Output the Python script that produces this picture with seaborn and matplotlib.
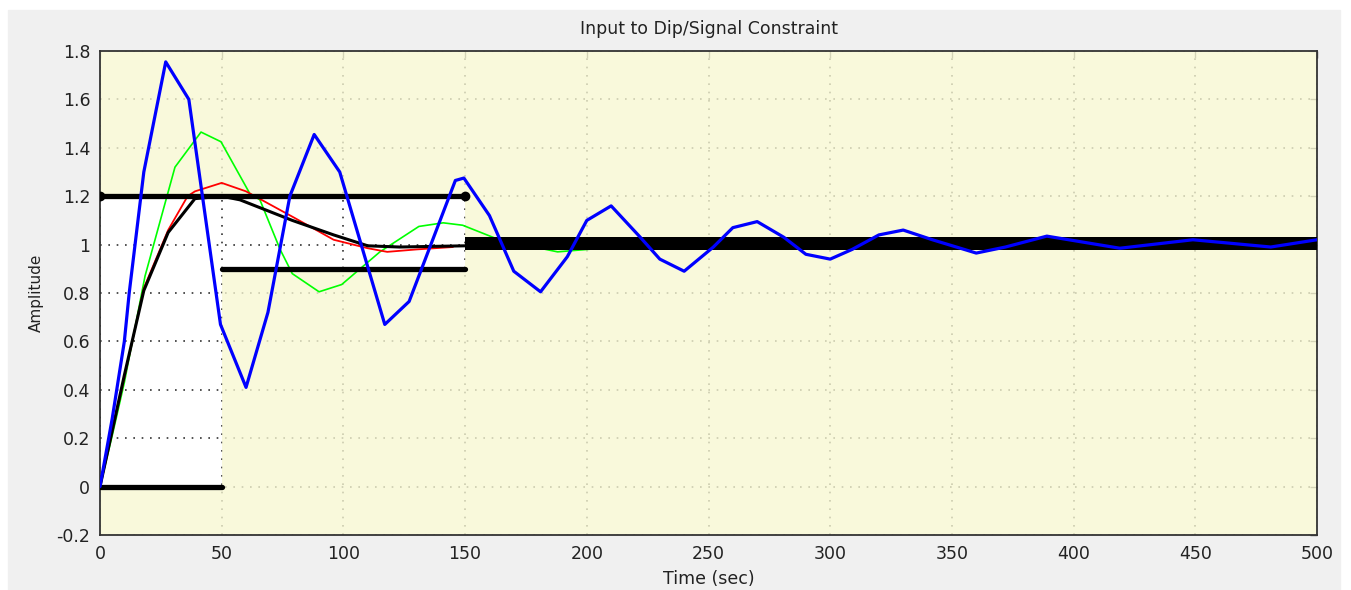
import numpy as np
import pandas as pd
import matplotlib
matplotlib.use("Agg")
import matplotlib.pyplot as plt
from matplotlib.patches import Rectangle
import seaborn as sns

# ---------------- data ----------------
blue_t = [0, 5, 10, 12, 18, 27, 36.5, 49.5, 60, 69, 78, 88, 98.5, 117, 127, 146, 149.5,
          160, 170, 181, 192, 200, 210, 222, 230, 240, 252, 260, 270, 281, 290, 300, 309,
          320, 330, 342, 360, 372, 389, 401, 419, 449, 481, 500]
blue_v = [0, 0.28, 0.6, 0.8, 1.30, 1.755, 1.60, 0.67, 0.41, 0.72, 1.20, 1.455, 1.30, 0.67, 0.765,
          1.265, 1.275, 1.12, 0.89, 0.805, 0.95, 1.10, 1.16, 1.03, 0.94, 0.89, 0.99, 1.07, 1.095,
          1.03, 0.96, 0.94, 0.98, 1.04, 1.06, 1.02, 0.965, 0.99, 1.035, 1.015, 0.985, 1.02, 0.99, 1.02]

green_t = [0, 5, 10, 18.5, 30.8, 41.5, 49.7, 61.6, 65.7, 74, 79, 90, 99.3, 115, 131, 141, 149,
           164, 188, 212, 233, 258, 300, 500]
green_v = [0, 0.21, 0.43, 0.87, 1.32, 1.465, 1.425, 1.21, 1.185, 0.98, 0.88, 0.805, 0.835, 0.97,
           1.075, 1.09, 1.08, 1.02, 0.97, 0.99, 1.025, 1.02, 1.0, 1.0]

red_t = [0, 10, 18, 28, 36, 39, 50, 60, 80, 96, 110, 118, 130, 145]
red_v = [0, 0.45, 0.82, 1.06, 1.20, 1.22, 1.255, 1.22, 1.11, 1.02, 0.985, 0.97, 0.98, 0.99]

black_t = [0, 10, 18, 28, 39, 50, 57.5, 79, 96, 110, 123, 150, 500]
black_v = [0, 0.46, 0.81, 1.05, 1.19, 1.20, 1.185, 1.10, 1.04, 0.995, 0.99, 0.995, 1.0]

# constraint bounds (piecewise)
upper_t = [[0, 150], [150, 500]]
upper_v = [1.2, 1.02]
lower_t = [[0, 50], [50, 150], [150, 500]]
lower_v = [0.0, 0.9, 0.98]

x_ticks = [0, 50, 100, 150, 200, 250, 300, 350, 400, 450, 500]
y_ticks = [-0.2, 0, 0.2, 0.4, 0.6, 0.8, 1, 1.2, 1.4, 1.6, 1.8]
y_tick_labels = ["-0.2", "0", "0.2", "0.4", "0.6", "0.8", "1", "1.2", "1.4", "1.6", "1.8"]

# ---------------- style ----------------
sns.set_style("white")
plt.rcParams["font.family"] = ["DejaVu Sans"]
text_col = "#222222"

fig = plt.figure(figsize=(13.51, 5.90), dpi=100, facecolor="white")
fig.patches.append(Rectangle((8 / 1351, 0), (1340 - 8) / 1351, (590 - 10) / 590,
                             transform=fig.transFigure, color="#f0f0f0", zorder=-10))
ax = fig.add_axes([100 / 1351, 55 / 590, 1217 / 1351, 484 / 590])
ax.set_facecolor("white")

ax.set_xlim(0, 500)
ax.set_ylim(-0.2, 1.8)

# grid (dark dotted, softened by the translucent yellow regions)
ax.set_axisbelow(True)
ax.grid(True, color="#333333", linestyle=(0, (1, 4)), linewidth=1.2)

# infeasible regions (yellow, translucent over grid)
yel = (248 / 255, 248 / 255, 210 / 255)
for (t0, t1), v in zip(upper_t, upper_v):
    ax.fill_between([t0, t1], [v, v], [1.8, 1.8], color=yel, alpha=0.78, lw=0, zorder=1)
for (t0, t1), v in zip(lower_t, lower_v):
    ax.fill_between([t0, t1], [-0.2, -0.2], [v, v], color=yel, alpha=0.78, lw=0, zorder=1)

# constraint segments
for (t0, t1), v in zip(upper_t[:1], upper_v[:1]):
    ax.plot([t0, t1], [v, v], color="black", lw=3.8, solid_capstyle="round", zorder=3.5,
            marker="o", ms=6)
for (t0, t1), v in zip(lower_t[:2], lower_v[:2]):
    ax.plot([t0, t1], [v, v], color="black", lw=3.8, solid_capstyle="round", zorder=3.5)
ax.fill_between(upper_t[1], [lower_v[2] - 0.002] * 2, [upper_v[1] + 0.01] * 2,
                color="black", lw=0, zorder=3.5)

# response curves
def draw(t, v, color, lw, z):
    df = pd.DataFrame({"t": t, "v": v})
    sns.lineplot(data=df, x="t", y="v", color=color, linewidth=lw, estimator=None,
                 sort=False, ax=ax, zorder=z)

draw(green_t, green_v, (0, 1, 0), 1.2, 3)
draw(red_t, red_v, (1, 0, 0), 1.3, 3.2)
draw(black_t, black_v, "black", 2.2, 5)
draw(blue_t, blue_v, (0, 0, 1), 2.3, 6)

# ticks & labels
ax.set_xticks(x_ticks)
ax.set_yticks(y_ticks)
ax.set_yticklabels(y_tick_labels)
ax.tick_params(direction="in", length=5, width=1, color="#555555", top=True, right=True,
               labelsize=12.5, labelcolor=text_col, pad=7)
for s in ax.spines.values():
    s.set_color("#333333")
    s.set_linewidth(1.3)

ax.set_xlabel("Time (sec)", fontsize=12.5, color=text_col, labelpad=5)
ax.set_ylabel("Amplitude", fontsize=11, color=text_col, labelpad=9)
ax.set_title("Input to Dip/Signal Constraint", fontsize=12.5, color=text_col, pad=12)

fig.savefig("out.png", dpi=100, facecolor=fig.get_facecolor())
